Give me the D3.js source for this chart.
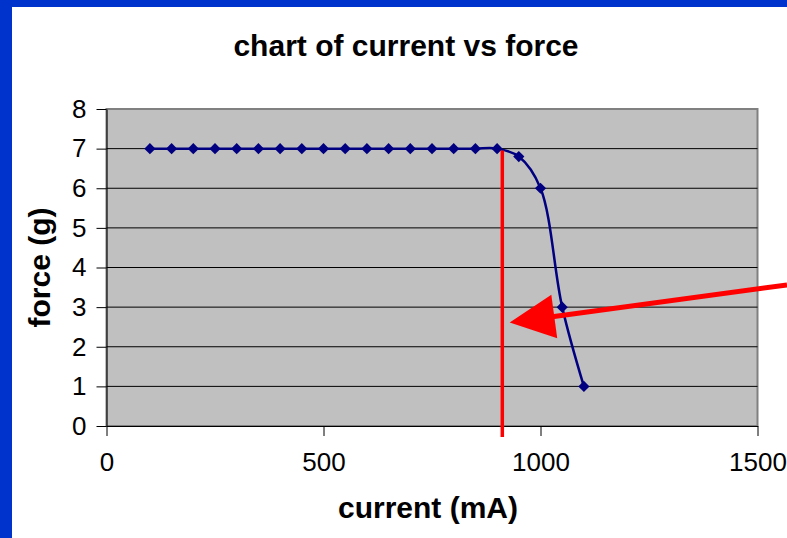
<!DOCTYPE html>
<html>
<head>
<meta charset="utf-8">
<script src="https://cdn.jsdelivr.net/npm/d3@7"></script>
<style>
  html, body { margin: 0; padding: 0; background: #0033cc; }
  svg { display: block; font-family: "Liberation Sans", Arial, sans-serif; }
</style>
</head>
<body>
<svg id="chart"></svg>
<script>
// Measured values
const currentMA = [100, 150, 200, 250, 300, 350, 400, 450, 500, 550, 600, 650, 700, 750, 800, 850, 900, 950, 1000, 1050, 1100];
const forceG    = [7, 7, 7, 7, 7, 7, 7, 7, 7, 7, 7, 7, 7, 7, 7, 7, 7, 6.8, 6, 3, 1];
const xTicks = [0, 500, 1000, 1500];
const yTicks = [0, 1, 2, 3, 4, 5, 6, 7, 8];

// Annotations (in data units)
const cutoffLine = [[912, 6.95], [912, -0.28]];
const arrowLine = [[1568, 3.56], [929, 2.61]];

const width = 787, height = 538;
const svg = d3.select('#chart').attr('width', width).attr('height', height);

// white slide area inside blue frame
svg.append('rect')
    .attr('x', 12).attr('y', 7)
    .attr('width', width - 12).attr('height', height - 7)
    .attr('fill', '#fff');

const plot = { left: 106.5, right: 757.5, top: 109, bottom: 426 };

const x = d3.scaleLinear().domain([0, 1500]).range([plot.left, plot.right]);
const y = d3.scaleLinear().domain([0, 8]).range([plot.bottom, plot.top]);

// plot background
svg.append('rect')
    .attr('x', plot.left).attr('y', plot.top)
    .attr('width', plot.right - plot.left).attr('height', plot.bottom - plot.top)
    .attr('fill', '#c0c0c0')
    .attr('stroke', '#808080')
    .attr('stroke-width', 2);

// gridlines
svg.append('g')
    .selectAll('line')
    .data(yTicks.filter(d => d > 0 && d < 8))
    .enter().append('line')
    .attr('x1', plot.left).attr('x2', plot.right)
    .attr('y1', d => y(d)).attr('y2', d => y(d))
    .attr('stroke', '#000')
    .attr('stroke-width', 1);

// axes
const yAxis = svg.append('g')
    .attr('transform', `translate(${plot.left},0)`)
    .call(d3.axisLeft(y).tickValues(yTicks).tickFormat(d3.format('d'))
        .tickSize(10).tickSizeOuter(0).tickPadding(10));
const xAxis = svg.append('g')
    .attr('transform', `translate(0,${plot.bottom})`)
    .call(d3.axisBottom(x).tickValues(xTicks).tickFormat(d3.format('d'))
        .tickSize(10).tickSizeOuter(0).tickPadding(17));

[xAxis, yAxis].forEach(a => {
    a.select('.domain').attr('stroke', '#000').attr('stroke-width', 1);
    a.selectAll('.tick line').attr('stroke', '#000');
    a.selectAll('.tick text')
        .attr('font-family', '"Liberation Sans", Arial, sans-serif')
        .attr('font-size', 26)
        .attr('fill', '#000');
});
xAxis.selectAll('.tick text').attr('dy', '0.71em');

// data series
const points = currentMA.map((c, i) => [c, forceG[i]]);

const line = d3.line()
    .x(d => x(d[0]))
    .y(d => y(d[1]))
    .curve(d3.curveCatmullRom.alpha(0.5));

svg.append('path')
    .datum(points)
    .attr('d', line)
    .attr('fill', 'none')
    .attr('stroke', '#000080')
    .attr('stroke-width', 2.5);

svg.append('g')
    .selectAll('path')
    .data(points)
    .enter().append('path')
    .attr('transform', d => `translate(${x(d[0])},${y(d[1])})`)
    .attr('d', d3.symbol().type(d3.symbolDiamond2).size(80))
    .attr('fill', '#000080');

// red cutoff line
svg.append('line')
    .attr('x1', x(cutoffLine[0][0])).attr('y1', y(cutoffLine[0][1]))
    .attr('x2', x(cutoffLine[1][0])).attr('y2', y(cutoffLine[1][1]))
    .attr('stroke', '#ff0000')
    .attr('stroke-width', 3.5);

// red arrow
const [sx, sy] = [x(arrowLine[0][0]), y(arrowLine[0][1])];
const [tx, ty] = [x(arrowLine[1][0]), y(arrowLine[1][1])];
const len = Math.hypot(tx - sx, ty - sy);
const ux = (tx - sx) / len, uy = (ty - sy) / len;
const headLen = 45, headHalf = 22;
const bx = tx - ux * headLen, by = ty - uy * headLen;

svg.append('line')
    .attr('x1', sx).attr('y1', sy)
    .attr('x2', bx + ux * 2).attr('y2', by + uy * 2)
    .attr('stroke', '#ff0000')
    .attr('stroke-width', 5);

svg.append('polygon')
    .attr('points', [
        [tx, ty],
        [bx - uy * headHalf, by + ux * headHalf],
        [bx + uy * headHalf, by - ux * headHalf]
    ].map(p => p.join(',')).join(' '))
    .attr('fill', '#ff0000');

// titles
svg.append('text')
    .attr('x', 406).attr('y', 56)
    .attr('text-anchor', 'middle')
    .attr('font-size', 30)
    .attr('font-weight', 'bold')
    .text('chart of current vs force');

svg.append('text')
    .attr('x', 428).attr('y', 518)
    .attr('text-anchor', 'middle')
    .attr('font-size', 30)
    .attr('font-weight', 'bold')
    .text('current (mA)');

svg.append('text')
    .attr('transform', `translate(50,${(plot.top + plot.bottom) / 2}) rotate(-90)`)
    .attr('text-anchor', 'middle')
    .attr('font-size', 30)
    .attr('font-weight', 'bold')
    .text('force (g)');
</script>
</body>
</html>
